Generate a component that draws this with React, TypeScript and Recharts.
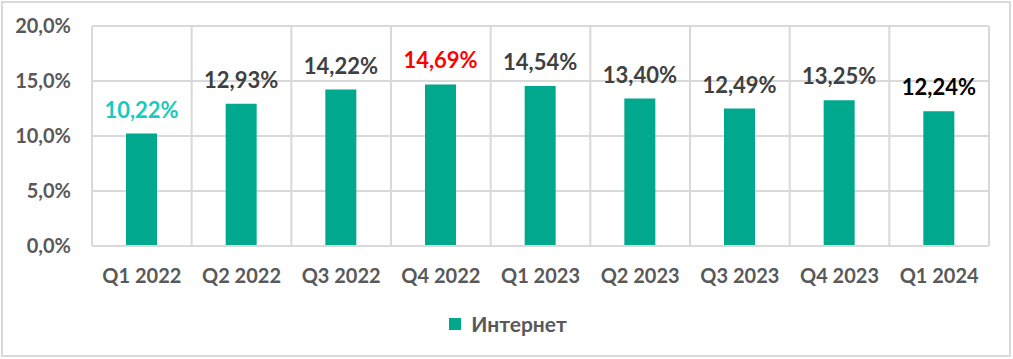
import { Bar, BarChart, CartesianGrid, LabelList, XAxis, YAxis } from "recharts";

const quarters = ["Q1 2022", "Q2 2022", "Q3 2022", "Q4 2022", "Q1 2023", "Q2 2023", "Q3 2023", "Q4 2023", "Q1 2024"];
const internet = [10.22, 12.93, 14.22, 14.69, 14.54, 13.4, 12.49, 13.25, 12.24];
const labelColors = ["#19cbbd", "#404040", "#404040", "#ff0000", "#404040", "#404040", "#404040", "#404040", "#000000"];
const yTicks = [0, 5, 10, 15, 20];

const data = quarters.map((q, i) => ({ name: q, value: internet[i] }));

const font = "Lato, 'Open Sans', sans-serif";
const fmt = (v: number, d: number) => v.toFixed(d).replace(".", ",") + "%";

const BarLabel = (props: any) => {
  const { x, y, width, value, index } = props;
  return (
    <text
      x={x + width / 2}
      y={y - 16}
      textAnchor="middle"
      fill={labelColors[index]}
      fontFamily={font}
      fontWeight={700}
      fontSize={22}
    >
      {fmt(value, 2)}
    </text>
  );
};

export default function App() {
  return (
    <div style={{ width: 1013, height: 359, position: "relative" }}>
      <style>{"body{margin:0}"}</style>
      <div style={{ position: "absolute", left: 1, top: 1, width: 1010, height: 356, border: "2px solid #d9d9d9", boxSizing: "border-box" }} />
      <BarChart width={1013} height={359} data={data} margin={{ top: 26, right: 24, left: 0, bottom: 0 }}>
        <CartesianGrid
          stroke="#d9d9d9"
          strokeWidth={2}
          verticalCoordinatesGenerator={({ offset }: any) =>
            quarters.map((_, i) => offset.left + (i * offset.width) / quarters.length).concat(offset.left + offset.width)
          }
        />
        <XAxis
          dataKey="name"
          height={113}
          axisLine={{ stroke: "#d9d9d9", strokeWidth: 2 }}
          tickLine={false}
          tickSize={0}
          tickMargin={23}
          tick={{ fill: "#595959", fontFamily: font, fontWeight: 700, fontSize: 20 }}
        />
        <YAxis
          width={92}
          domain={[0, 20]}
          ticks={yTicks}
          axisLine={false}
          tickLine={false}
          tickSize={0}
          tickMargin={21}
          tickFormatter={(v: number) => fmt(v, 1)}
          tick={{ fill: "#595959", fontFamily: font, fontWeight: 700, fontSize: 20 }}
        />
        <Bar dataKey="value" name="Интернет" fill="#00a88e" barSize={31} isAnimationActive={false}>
          <LabelList dataKey="value" content={<BarLabel />} />
        </Bar>
      </BarChart>
      <div
        style={{
          position: "absolute",
          top: 311,
          left: 0,
          width: 1016,
          display: "flex",
          justifyContent: "center",
          alignItems: "center",
          fontFamily: font,
          fontWeight: 700,
          fontSize: 21,
          color: "#595959",
        }}
      >
        <span style={{ display: "inline-block", width: 12, height: 12, background: "#00a88e", marginRight: 10 }} />
        Интернет
      </div>
    </div>
  );
}
